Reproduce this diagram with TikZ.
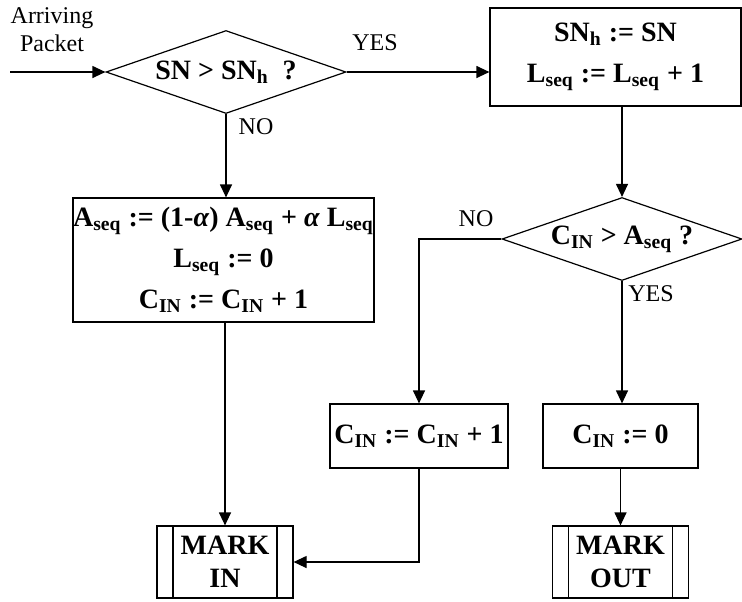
\documentclass[tikz,border=0pt]{standalone}
\usepackage{fontspec}
\setmainfont{Liberation Serif}
\usetikzlibrary{positioning}
\usetikzlibrary{shapes.geometric}
\usetikzlibrary{arrows.meta}
\newcommand\bigbf{\fontsize{14}{20.5}\selectfont\bfseries}
\newcommand\subs[1]{\textsubscript{#1}}
\tikzset{
  decision/.style={draw, diamond, aspect=2.9, inner sep=0pt, minimum width=120pt, minimum height=41.5pt, font=\bigbf},
  process/.style={draw, rectangle, align=center, inner sep=0pt, font=\bigbf},
  markbox/.style={draw, rectangle, align=center, inner sep=0pt, minimum width=68pt, minimum height=36pt,
    font=\fontsize{14}{16.5}\selectfont\bfseries,
    path picture={
      \draw ([xshift=8pt]path picture bounding box.north west) -- ([xshift=8pt]path picture bounding box.south west);
      \draw ([xshift=-8pt]path picture bounding box.north east) -- ([xshift=-8pt]path picture bounding box.south east);
    }},
  flow/.style={-{Triangle[length=6.5pt,width=6pt]}},
  lbl/.style={font=\fontsize{12}{14}\selectfont, align=center}
}

\begin{document}
\begin{tikzpicture}[x=0.5pt, y=-0.5pt, line width=0.6pt]
  \useasboundingbox (0,0) rectangle (742,601);
  % decisions
  \node[decision] (d1) at (226,72) {SN > SN\subs{h}\ \ ?};
  \node[decision] (d2) at (622,239) {C\subs{IN} > A\subs{seq} ?};
  % updates
  \node[process, minimum width=125.5pt, minimum height=49pt] (snbox) at (615.5,57)
    {SN\subs{h} := SN\\L\subs{seq} := L\subs{seq} + 1};
  \node[process, minimum width=150.5pt, minimum height=62pt] (abox) at (223.5,260)
    {A\subs{seq} := (1-\textit{α}) A\subs{seq} + \textit{α} L\subs{seq}\\L\subs{seq} := 0\\C\subs{IN} := C\subs{IN} + 1};
  \node[process, minimum width=89pt, minimum height=32pt] (cinc) at (419,436) {C\subs{IN} := C\subs{IN} + 1};
  \node[process, minimum width=77.5pt, minimum height=32pt] (czero) at (620.5,436) {C\subs{IN} := 0};
  % marking
  \node[markbox] (markin) at (225,562) {MARK\\IN};
  \node[markbox] (markout) at (620.5,562) {MARK\\OUT};
  % input
  \coordinate (in) at (10,72);
  \node[lbl] (arr) at (52,30) {Arriving\\Packet};
  % connectors
  \draw[flow] (in) -- (d1.west);
  \draw[flow] (d1.east) -- (d1.east -| snbox.west);
  \draw[flow] (d1.south) -- (d1.south |- abox.north);
  \draw[flow] (snbox.south -| d2.north) -- (d2.north);
  \draw[flow] (d2.west) -| (cinc.north);
  \draw[flow] (d2.south) -- (d2.south |- czero.north);
  \draw[flow] (abox.south -| markin.north) -- (markin.north);
  \draw[flow] (cinc.south) |- (markin.east);
  \draw[flow] (czero.south) -- (czero.south |- markout.north);
  % labels
  \node[lbl] (yes1) at (375,43) {YES};
  \node[lbl] (no1) at (256,127) {NO};
  \node[lbl] (no2) at (476,219) {NO};
  \node[lbl] (yes2) at (651,294) {YES};
\end{tikzpicture}
\end{document}
